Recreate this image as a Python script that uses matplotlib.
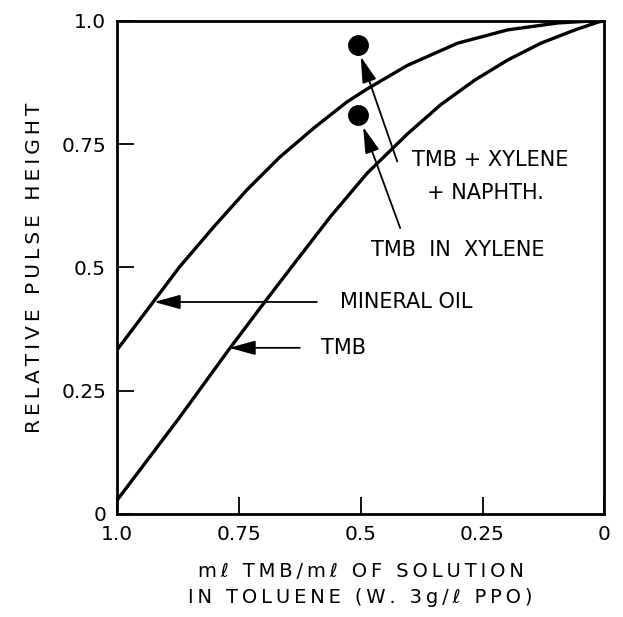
import matplotlib
matplotlib.use("Agg")
import matplotlib.pyplot as plt

# ml TMB / ml of solution (axis runs from 1.0 down to 0)
mineral_x = [1.0, 0.926, 0.872, 0.802, 0.734, 0.666, 0.596, 0.528, 0.487,
             0.404, 0.301, 0.198, 0.095, 0.027, 0.0]
mineral_y = [0.333, 0.430, 0.501, 0.582, 0.657, 0.724, 0.783, 0.836, 0.862,
             0.910, 0.955, 0.982, 0.996, 1.0, 1.0]

tmb_x = [1.0, 0.874, 0.771, 0.697, 0.631, 0.563, 0.487, 0.404, 0.336,
         0.266, 0.198, 0.130, 0.060, 0.012, 0.0]
tmb_y = [0.028, 0.193, 0.333, 0.430, 0.515, 0.602, 0.691, 0.771, 0.830,
         0.880, 0.921, 0.955, 0.982, 0.998, 1.0]

# single measured points: TMB + xylene + naphthalene, TMB in xylene
point_x = [0.505, 0.505]
point_y = [0.951, 0.809]

ticks = [1.0, 0.75, 0.5, 0.25, 0.0]
tick_labels = ["1.0", "0.75", "0.5", "0.25", "0"]


def spaced(s):
    # stretch lettering with thin spaces between characters
    return "\u2009".join(s)


fig = plt.figure(figsize=(6.23, 6.17), dpi=100)
ax = fig.add_axes([0.188, 0.167, 0.782, 0.799])

ax.plot(mineral_x, mineral_y, color="black", lw=2.4, solid_capstyle="round",
        solid_joinstyle="round")
ax.plot(tmb_x, tmb_y, color="black", lw=2.4, solid_capstyle="round",
        solid_joinstyle="round")
ax.plot(point_x, point_y, "o", color="black", ms=14)

ax.set_xlim(1.0, 0.0)
ax.set_ylim(0.0, 1.0)
ax.set_xticks(ticks)
ax.set_xticklabels(tick_labels)
ax.set_yticks(ticks)
ax.set_yticklabels(tick_labels)
ax.tick_params(direction="in", length=12, width=1.3, labelsize=14.5, pad=8)
for s in ax.spines.values():
    s.set_linewidth(2.0)

ax.set_ylabel(spaced("RELATIVE PULSE HEIGHT"), fontsize=14.5, labelpad=12)
ax.set_xlabel(spaced("m\u2113 TMB/m\u2113 OF SOLUTION") + "\n"
              + spaced("IN TOLUENE (W. 3g/\u2113 PPO)"),
              fontsize=14, labelpad=13, linespacing=1.45)

arrow = dict(arrowstyle="-|>,head_length=0.8,head_width=0.22", color="black",
             lw=1.3, mutation_scale=20, shrinkA=0, shrinkB=0)

ax.text(0.235, 0.718, "TMB + XYLENE", fontsize=15, ha="center", va="center")
ax.text(0.245, 0.651, "+ NAPHTH.", fontsize=15, ha="center", va="center")
ax.annotate("", xy=(0.500, 0.928), xytext=(0.425, 0.715), arrowprops=arrow)

ax.text(0.30, 0.535, "TMB  IN  XYLENE", fontsize=15, ha="center", va="center")
ax.annotate("", xy=(0.495, 0.785), xytext=(0.419, 0.58), arrowprops=arrow)

ax.text(0.407, 0.43, "MINERAL OIL", fontsize=15, ha="center", va="center")
ax.annotate("", xy=(0.924, 0.43), xytext=(0.59, 0.43), arrowprops=arrow)

ax.text(0.536, 0.337, "TMB", fontsize=15, ha="center", va="center")
ax.annotate("", xy=(0.77, 0.337), xytext=(0.625, 0.337), arrowprops=arrow)

fig.savefig("out.png", dpi=100)
